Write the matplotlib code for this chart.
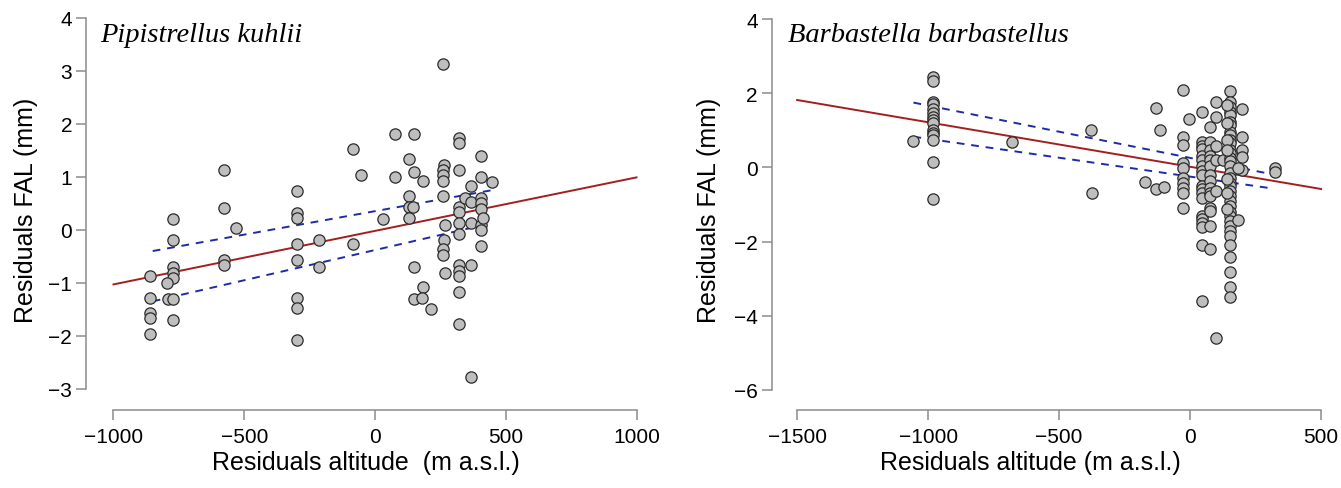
import matplotlib
matplotlib.use("Agg")
import matplotlib.pyplot as plt

# Pipistrellus kuhlii: residual altitude vs residual FAL
kuhlii_alt = [-860, -860, -860, -860, -860,
              -774, -774, -774, -774, -774, -797, -793, -774, -774,
              -576, -576, -576, -576, -532,
              -298, -298, -298, -298, -298, -298, -298, -298,
              -215, -215,
              -83, -54, 31, -83,
              75, 149, 75, 129, 149, 184, 129, 129, 144, 129, 149, 184, 149, 181, 213,
              261, 263, 261, 261, 261, 261, 268, 264, 261, 261, 268,
              321, 321, 321, 321, 321, 321, 321, 321, 321, 321, 321, 321,
              344, 366, 366, 366, 366, 366,
              405, 405, 405, 405, 405, 405, 405, 405, 414, 449]
kuhlii_fal = [-0.87, -1.28, -1.57, -1.67, -1.97,
              0.20, -0.20, -0.70, -0.81, -0.91, -1.00, -1.30, -1.30, -1.70,
              1.13, 0.42, -0.57, -0.67, 0.03,
              0.73, 0.32, 0.22, -0.27, -0.57, -1.28, -1.47, -2.08,
              -0.20, -0.71,
              1.53, 1.03, 0.20, -0.27,
              1.80, 1.80, 1.00, 1.33, 1.10, 0.93, 0.63, 0.43, 0.43, 0.23, -0.71, -1.08, -1.30, -1.28, -1.50,
              3.13, 1.22, 1.13, 1.03, 0.93, 0.63, 0.10, -0.20, -0.37, -0.47, -0.81,
              1.73, 1.63, 1.13, 0.43, 0.33, 0.13, -0.07, -0.67, -0.78, -0.88, -1.18, -1.78,
              0.60, 0.83, 0.52, 0.13, -0.67, -2.78,
              1.40, 1.00, 0.60, 0.50, 0.40, 0.10, 0.00, -0.30, 0.23, 0.90]
kuhlii_fit_x = [-1000, 1000]
kuhlii_fit_y = [-1.03, 0.99]
kuhlii_ci_x = [-850, 449]
kuhlii_ci_up = [-0.40, 0.75]
kuhlii_ci_lo = [-1.35, 0.13]

# Barbastella barbastellus
barb_alt = ([-981] * 15 + [-1057, -681, -379, -374, -173, -129, -115, -129, -98]
            + [-28] * 10 + [-4] + [47] * 19 + [76] * 15 + [99] * 6 + [125]
            + [153] * 35 + [142] * 7 + [182] + [197] * 5 + [182, 324, 324])
barb_fal = ([2.43, 2.32, 1.77, 1.70, 1.57, 1.46, 1.36, 1.28, 1.21, 1.02, 0.94, 0.87, 0.73, 0.14, -0.86]
            + [0.71, 0.68, 1.00, -0.69, -0.38, 1.60, 1.00, -0.59, -0.52]
            + [2.10, 0.81, 0.61, 0.11, -0.02, -0.29, -0.43, -0.56, -0.69, -1.08]
            + [1.30]
            + [1.50, 0.70, 0.59, 0.50, 0.30, 0.21, 0.03, -0.10, -0.19, -0.50, -0.59, -0.68, -0.81,
               -1.30, -1.39, -1.50, -1.61, -2.10, -3.60]
            + [1.10, 0.70, 0.48, 0.30, 0.21, 0.03, -0.19, -0.37, -0.54, -0.68, -0.77, -1.08, -1.17,
               -1.57, -2.19]
            + [1.76, 1.37, 0.57, 0.21, -0.63, -4.60]
            + [0.21]
            + [2.07, 1.77, 1.64, 1.50, 1.42, 1.24, 1.15, 0.97, 0.88, 0.75, 0.66, 0.48, 0.39, 0.26,
               0.17, 0.03, -0.14, -0.28, -0.41, -0.50, -0.63, -0.77, -0.90, -1.03, -1.21, -1.30,
               -1.44, -1.57, -1.70, -1.84, -2.10, -2.41, -2.81, -3.21, -3.50]
            + [1.68, 1.20, 0.75, 0.48, -0.32, -0.68, -1.12]
            + [-1.42]
            + [1.58, 0.81, 0.48, 0.28, -0.08]
            + [-0.01, -0.01, -0.13])
barb_fit_x = [-1500, 500]
barb_fit_y = [1.82, -0.58]
barb_ci_x = [-1056, 318]
barb_ci_up = [1.75, -0.19]
barb_ci_lo = [0.83, -0.57]

W, H = 1341, 489
fig = plt.figure(figsize=(W / 100, H / 100), dpi=100)

sans = "Liberation Sans"
serif = "Liberation Serif"
spine_col = "#8c8c8c"


def px_axes(x0, x1, ytop, ybot):
    return fig.add_axes([x0 / W, 1 - ybot / H, (x1 - x0) / W, (ybot - ytop) / H])


def style(ax, xb, yb, xt, yt):
    for s in ["top", "right"]:
        ax.spines[s].set_visible(False)
    for s in ["left", "bottom"]:
        ax.spines[s].set_color(spine_col)
        ax.spines[s].set_linewidth(1.1)
    ax.spines["bottom"].set_bounds(*xb)
    ax.spines["left"].set_bounds(*yb)
    ax.set_xticks(xt)
    ax.set_yticks(yt)
    ax.tick_params(length=7, width=1.1, color=spine_col, labelsize=15)
    ax.tick_params(axis="y", pad=3)
    ax.tick_params(axis="x", pad=5)
    for lab in ax.get_xticklabels() + ax.get_yticklabels():
        lab.set_family(sans)


def draw(ax, x, y, fx, fy, cx, cu, cl):
    ax.plot(fx, fy, color="#a31f1f", lw=1.4, zorder=2)
    ax.plot(cx, cu, color="#1f2aa8", lw=1.4, ls=(0, (4, 3.5)), zorder=2)
    ax.plot(cx, cl, color="#1f2aa8", lw=1.4, ls=(0, (4, 3.5)), zorder=2)
    ax.scatter(x, y, s=66, facecolor="#bebebe", edgecolor="#2b2b2b", linewidths=0.9, zorder=3)


# left panel
ax1 = px_axes(86, 670, 12, 411)
ax1.set_xlim(-1105, 1128)
ax1.set_ylim(-3.40, 4.13)
draw(ax1, kuhlii_alt, kuhlii_fal, kuhlii_fit_x, kuhlii_fit_y, kuhlii_ci_x, kuhlii_ci_up, kuhlii_ci_lo)
style(ax1, (-1000, 1000), (-3, 4), [-1000, -500, 0, 500, 1000], list(range(-3, 5)))

# right panel
ax2 = px_axes(771.7, 1341, 12, 411)
ax2.set_xlim(-1597, 576)
ax2.set_ylim(-6.54, 4.22)
draw(ax2, barb_alt, barb_fal, barb_fit_x, barb_fit_y, barb_ci_x, barb_ci_up, barb_ci_lo)
style(ax2, (-1500, 500), (-6, 4), [-1500, -1000, -500, 0, 500], [-6, -4, -2, 0, 2, 4])

# titles and axis labels
fig.text(100 / W, 1 - 42 / H, "Pipistrellus kuhlii", family=serif, style="italic",
         fontsize=20.5, va="baseline", ha="left")
fig.text(788 / W, 1 - 42 / H, "Barbastella barbastellus", family=serif, style="italic",
         fontsize=20.5, va="baseline", ha="left")
fig.text(366 / W, 1 - 463 / H, "Residuals altitude  (m a.s.l.)", family=sans, fontsize=18,
         ha="center", va="center")
fig.text(1030 / W, 1 - 463 / H, "Residuals altitude (m a.s.l.)", family=sans, fontsize=18,
         ha="center", va="center")
fig.text(26 / W, 1 - 210 / H, "Residuals FAL (mm)", family=sans, fontsize=18,
         rotation=90, ha="center", va="center")
fig.text(709 / W, 1 - 210 / H, "Residuals FAL (mm)", family=sans, fontsize=18,
         rotation=90, ha="center", va="center")

fig.savefig("out.png", dpi=100)
